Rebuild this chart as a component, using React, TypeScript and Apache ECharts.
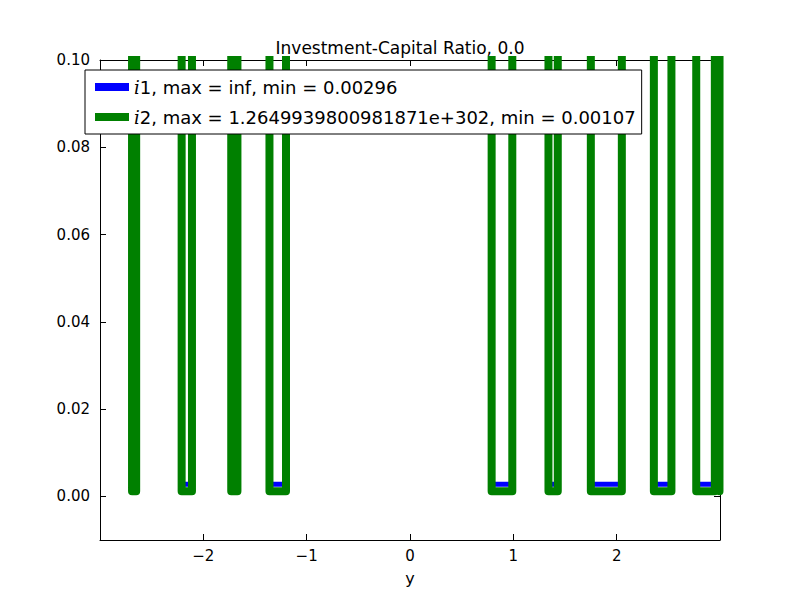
import { useEffect, useRef } from "react";
import * as echarts from "echarts";

const TOP = 1; // off-chart level, clipped
const greenLevel = 0.0012;
const blueLevel = 0.0028;

// pairs of x where each series dips into the visible range
const dipStarts = [-2.69, -2.21, -1.73, -1.36, 0.79, 1.34, 1.75, 2.36, 2.77];
const dipEnds = [-2.65, -2.11, -1.67, -1.2, 0.99, 1.43, 2.05, 2.53, 2.95];

const xTicks = [-2, -1, 0, 1, 2];
const yTicks = [0, 0.02, 0.04, 0.06, 0.08, 0.1];

function buildDips(level: number) {
  const pts: number[][] = [[-3, TOP]];
  dipStarts.forEach((s, i) => {
    pts.push([s, TOP], [s, level], [dipEnds[i], level], [dipEnds[i], TOP]);
  });
  pts.push([2.995, TOP], [2.995, level], [3, TOP]);
  return pts;
}

const blueData = buildDips(blueLevel);
const greenData = buildDips(greenLevel);

export default function App() {
  const ref = useRef<HTMLDivElement>(null);

  useEffect(() => {
    document.body.style.margin = "0";
    if (!ref.current) return;
    const chart = echarts.init(ref.current, null, { renderer: "svg" });
    const font = "DejaVu Sans";
    const tick = { show: true, inside: true, length: 6, lineStyle: { color: "#000" } };
    const line = { onZero: false, lineStyle: { color: "#000", width: 1 } };
    chart.setOption({
      animation: false,
      textStyle: { fontFamily: font },
      title: {
        text: "Investment-Capital Ratio, 0.0",
        left: "center",
        top: 34,
        textStyle: { fontSize: 17, fontWeight: "normal", color: "#000", fontFamily: font },
      },
      grid: { left: 100, right: 80, top: 60, bottom: 60 },
      legend: {
        orient: "vertical",
        left: 85,
        top: 70,
        itemWidth: 34,
        itemHeight: 8,
        itemGap: 12,
        padding: [8, 6, 8, 10],
        borderColor: "#000",
        borderWidth: 1,
        borderRadius: 0,
        backgroundColor: "#fff",
        icon: "rect",
        formatter: (name: string) =>
          name === "i1"
            ? "{i|i}1, max = inf, min = 0.00296"
            : "{i|i}2, max = 1.2649939800981871e+302, min = 0.00107",
        textStyle: {
          fontSize: 18,
          color: "#000",
          fontFamily: font,
          rich: { i: { fontStyle: "italic", fontFamily: "DejaVu Serif", fontSize: 18 } },
        },
      },
      xAxis: [
        {
          type: "value",
          min: -3,
          max: 3,
          name: "y",
          nameLocation: "middle",
          nameGap: 30,
          nameTextStyle: { fontSize: 16, color: "#000" },
          axisLine: line,
          axisTick: { ...tick, customValues: xTicks },
          axisLabel: { customValues: xTicks, color: "#000", fontSize: 15, formatter: (v: number) => (v < 0 ? "\u2212" + -v : String(v)) },
          splitLine: { show: false },
        },
        {
          type: "value",
          position: "top",
          min: -3,
          max: 3,
          axisLine: line,
          axisTick: { ...tick, customValues: xTicks },
          axisLabel: { show: false },
          splitLine: { show: false },
        },
      ],
      yAxis: [
        {
          type: "value",
          min: -0.01,
          max: 0.1,
          axisLine: line,
          axisTick: { ...tick, customValues: yTicks },
          axisLabel: { customValues: yTicks, color: "#000", fontSize: 15, margin: 10, formatter: (v: number) => v.toFixed(2) },
          splitLine: { show: false },
        },
        {
          type: "value",
          position: "right",
          min: -0.01,
          max: 0.1,
          axisLine: line,
          axisTick: { ...tick, customValues: yTicks },
          axisLabel: { show: false },
          splitLine: { show: false },
        },
      ],
      series: [
        {
          name: "i1",
          type: "line",
          data: blueData,
          symbol: "none",
          color: "#0000ff",
          lineStyle: { color: "#0000ff", width: 5 },
          clip: true,
        },
        {
          name: "i2",
          type: "line",
          data: greenData,
          symbol: "none",
          color: "#008000",
          lineStyle: { color: "#008000", width: 8, join: "round", cap: "round" },
          clip: true,
        },
      ],
    });
    return () => chart.dispose();
  }, []);

  return <div ref={ref} style={{ width: 800, height: 600 }} />;
}
